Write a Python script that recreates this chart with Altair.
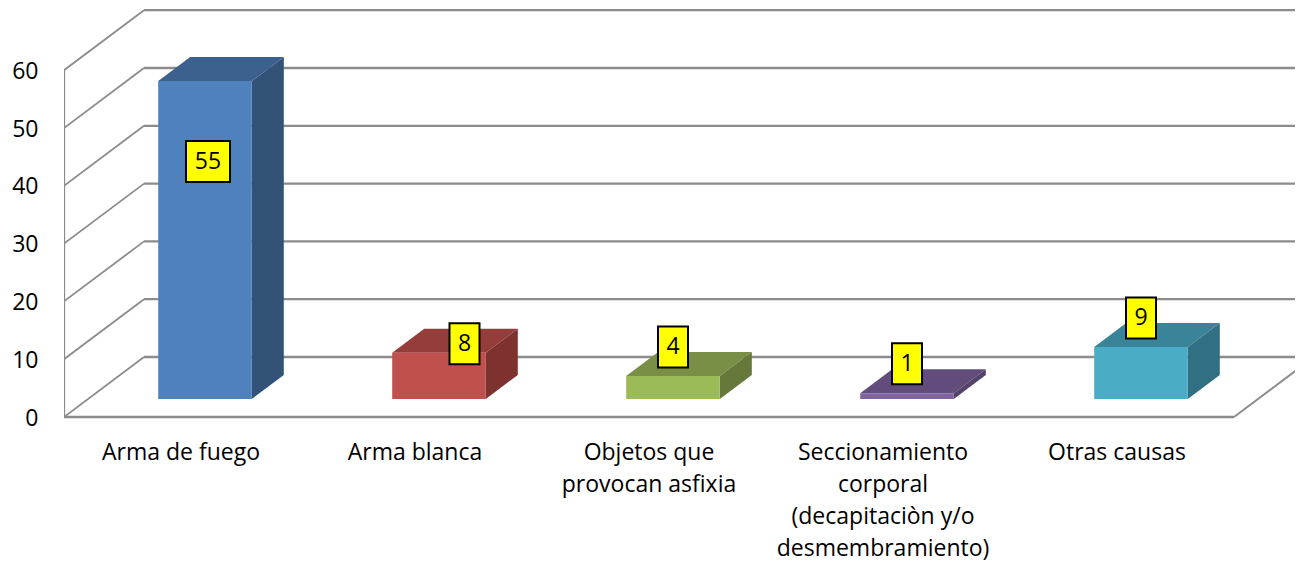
import altair as alt
import pandas as pd

categories = ["Arma de fuego", "Arma blanca", "Objetos que\nprovocan asfixia",
              "Seccionamiento\ncorporal\n(decapitaciòn y/o\ndesmembramiento)", "Otras causas"]
values = [55, 8, 4, 1, 9]
y_ticks = [0, 10, 20, 30, 40, 50, 60]

# styles
front_colors = ["#4F81BD", "#C0504D", "#9BBB59", "#8064A2", "#4BACC6"]
top_colors = ["#3D618F", "#953D3B", "#788F45", "#624C7C", "#3A849A"]
side_colors = ["#335278", "#7E3230", "#66793A", "#54426A", "#317083"]
FONT = "Open Sans"
FS = 23
GRID = "#8C8C8C"

# pseudo-3D projection, expressed in the units of the two scales
PX_X = 234.0          # pixels per category slot
PX_Y = 5.78           # pixels per value unit
DX = 80 / PX_X        # wall depth, in slots
DY = 60 / PX_Y        # wall depth, in value units
BAR = 0.4             # bar width and depth, fraction of slot / wall depth
D0, D1 = 0.3, 0.7     # bar position along the depth
X_MIN, X_MAX = -0.5, 4.5
PLOT_W, PLOT_H = 1231, 555
x_dom = [X_MIN, X_MIN + PLOT_W / PX_X]
y_top = 409 / PX_Y
y_dom = [y_top - PLOT_H / PX_Y, y_top]

xs = alt.Scale(domain=x_dom, nice=False, zero=False)
ys = alt.Scale(domain=y_dom, nice=False, zero=False)
y_axis = alt.Axis(values=y_ticks, grid=False, domain=False, ticks=False,
                  labelPadding=26, labelFont=FONT, labelFontSize=FS, labelColor="#000000",
                  labelOverlap=False, labelFlush=False, labelOffset=1, title=None)


def X(f, **k):
    return alt.X(f, type="quantitative", scale=xs, axis=None, title=None, **k)


def Y(f, **k):
    return alt.Y(f, type="quantitative", scale=ys, title=None, axis=y_axis, **k)


# walls
slant, back, front = [], [], []
for t in y_ticks:
    slant += [dict(k=t, o=0, x=X_MIN, y=t), dict(k=t, o=1, x=X_MIN + DX, y=t + DY)]
    back += [dict(k=t, o=0, x=X_MIN + DX, y=t + DY), dict(k=t, o=1, x=X_MAX + DX, y=t + DY)]
slant += [dict(k=-1, o=0, x=X_MAX, y=0), dict(k=-1, o=1, x=X_MAX + DX, y=DY)]
front += [dict(k=0, o=0, x=X_MIN, y=60), dict(k=0, o=1, x=X_MIN, y=0), dict(k=0, o=2, x=X_MAX, y=0)]


def lines(rows, w):
    return alt.Chart(pd.DataFrame(rows)).mark_line(color=GRID, strokeWidth=w, clip=True).encode(
        x=X("x"), y=Y("y"), detail="k:N", order="o:Q")


# bars
fr, tp, sd = [], [], []
for i, v in enumerate(values):
    l, r = i - BAR / 2, i + BAR / 2
    fr.append(dict(x=l + D0 * DX, x2=r + D0 * DX, y=D0 * DY, y2=v + D0 * DY, c=front_colors[i]))
    for d in (D0, D1):
        tp.append(dict(k=i, y=v + d * DY, x=l + d * DX, x2=r + d * DX, c=top_colors[i]))
        sd.append(dict(k=i, x=r + d * DX, y=d * DY, y2=v + d * DY, c=side_colors[i]))

front_l = alt.Chart(pd.DataFrame(fr)).mark_rect().encode(
    x=X("x"), x2="x2:Q", y=Y("y"), y2="y2:Q", fill=alt.Fill("c:N", scale=None))
top_l = alt.Chart(pd.DataFrame(tp)).mark_area(orient="horizontal").encode(
    x=X("x"), x2="x2:Q", y=Y("y"), detail="k:N", fill=alt.Fill("c:N", scale=None))
side_l = alt.Chart(pd.DataFrame(sd)).mark_area().encode(
    x=X("x"), y=Y("y"), y2="y2:Q", detail="k:N", fill=alt.Fill("c:N", scale=None))

# data labels, dragged by hand in the original for the first two
label_shift_x = [3 / PX_X, 25.5 / PX_X, 0, 0, 0]
label_shift_y = [-80.5 / PX_Y, 9 / PX_Y, 29 / PX_Y, 29.5 / PX_Y, 29 / PX_Y]
lb = []
for i, v in enumerate(values):
    cx = i + D0 * DX + label_shift_x[i]
    cy = v + D0 * DY + label_shift_y[i]
    hw = (14 * len(str(v)) + 16) / 2 / PX_X
    hh = 20.5 / PX_Y
    lb.append(dict(x=cx - hw, x2=cx + hw, y=cy - hh, y2=cy + hh, cx=cx, cy=cy, t=str(v)))
lb = pd.DataFrame(lb)
box_l = alt.Chart(lb).mark_rect(fill="#FFFF00", stroke="#000000", strokeWidth=2).encode(
    x=X("x"), x2="x2:Q", y=Y("y"), y2="y2:Q")
num_l = alt.Chart(lb).mark_text(font=FONT, fontSize=FS, color="#000000", align="center", baseline="middle").encode(
    x=X("cx"), y=Y("cy"), text="t:N")

# category labels
cat_df = pd.DataFrame({"x": list(range(len(categories))), "t": categories, "y": [-43 / PX_Y] * len(categories)})
cat_l = alt.Chart(cat_df).mark_text(font=FONT, fontSize=FS, color="#000000", align="center",
                                    baseline="alphabetic", lineBreak="\n", lineHeight=32).encode(
    x=X("x"), y=Y("y"), text="t:N")

chart = alt.layer(lines(slant, 1.8), lines(back, 2.3), lines(front, 2.3),
                  top_l, side_l, front_l, box_l, num_l, cat_l).properties(
    width=PLOT_W, height=PLOT_H,
    autosize=alt.AutoSizeParams(type="none"),
    padding={"left": 56, "top": 0, "right": 0, "bottom": 0},
    background="#FFFFFF",
).configure_view(stroke=None)

chart.save("out.html", embed_options={"renderer": "svg", "actions": False})
